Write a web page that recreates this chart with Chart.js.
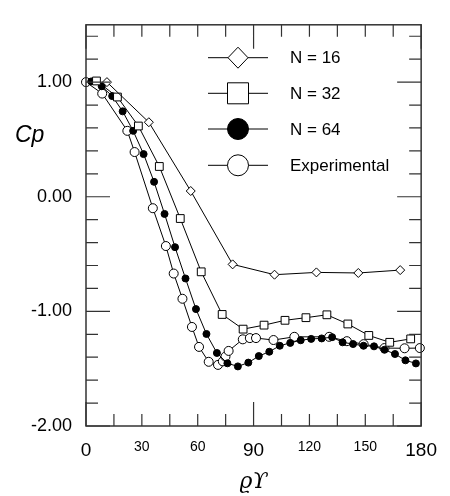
<!DOCTYPE html>
<html>
<head>
<meta charset="UTF-8" />
<title>Cp distribution</title>
<script src="https://cdn.jsdelivr.net/npm/chart.js"></script>
<style>
  body { margin: 0; background: #ffffff; }
  canvas { display: block; }
</style>
</head>
<body>
<canvas id="grafico" width="450" height="496"></canvas>
<script>
// tick labels
const xTicks = [0, 30, 60, 90, 120, 150, 180];
const yTicks = [-2, -1, 0, 1];

// series
const seriesNames = ['N = 16', 'N = 32', 'N = 64', 'Experimental'];

const n16Angle = [11.25, 33.75, 56.25, 78.75, 101.25, 123.75, 146.25, 168.75];
const n16Cp = [1.00, 0.65, 0.05, -0.59, -0.68, -0.66, -0.665, -0.64];

const n32Angle = [5.63, 16.88, 28.13, 39.38, 50.63, 61.88, 73.13, 84.38,
                  95.63, 106.88, 118.13, 129.38, 140.63, 151.88, 163.13, 174.38];
const n32Cp = [1.01, 0.87, 0.617, 0.264, -0.19, -0.655, -1.027, -1.155,
               -1.12, -1.078, -1.055, -1.03, -1.11, -1.21, -1.27, -1.24];

const n64Angle = [2.81, 8.44, 14.06, 19.69, 25.31, 30.94, 36.56, 42.19,
                  47.81, 53.44, 59.06, 64.69, 70.31, 75.94, 81.56, 87.19,
                  92.81, 98.44, 104.06, 109.69, 115.31, 120.94, 126.56, 132.19,
                  137.81, 143.44, 149.06, 154.69, 160.31, 165.94, 171.56, 177.19];
const n64Cp = [1.006, 0.964, 0.878, 0.745, 0.575, 0.372, 0.13, -0.15,
               -0.44, -0.713, -0.98, -1.197, -1.363, -1.453, -1.48, -1.447,
               -1.39, -1.352, -1.30, -1.275, -1.252, -1.24, -1.236, -1.225,
               -1.27, -1.285, -1.30, -1.305, -1.335, -1.372, -1.427, -1.454];

const expAngle = [0, 8.7, 22.2, 26.1, 35.9, 42.9, 47.1, 51.8, 56.9, 60.7,
                  65.9, 70.9, 73.5, 74.9, 76.6, 84.2, 88.0, 91.3, 100.7, 111.9,
                  130.6, 140.1, 149.1, 160.3, 171.1, 179.3];
const expCp = [1.00, 0.90, 0.575, 0.39, -0.10, -0.43, -0.67, -0.89, -1.136, -1.31,
               -1.44, -1.467, -1.436, -1.395, -1.345, -1.244, -1.233, -1.233, -1.25, -1.222,
               -1.222, -1.26, -1.286, -1.32, -1.322, -1.32];

const pts = (xs, ys) => xs.map((x, i) => ({ x: x, y: ys[i] }));

// frame with inward ticks, like the original plot
const moldura = {
  id: 'moldura',
  afterDatasetsDraw(chart) {
    const ctx = chart.ctx;
    const a = chart.chartArea;
    const sx = chart.scales.x, sy = chart.scales.y;
    ctx.save();
    ctx.strokeStyle = '#333';
    ctx.lineWidth = 1.5;
    ctx.strokeRect(a.left, a.top, a.right - a.left, a.bottom - a.top);
    ctx.lineWidth = 1.2;
    ctx.beginPath();
    for (let k = 0; k <= 12; k++) {
      const v = k * 15;
      const px = sx.getPixelForValue(v);
      const len = (v % 90 === 0) ? 24 : 12;
      ctx.moveTo(px, a.bottom); ctx.lineTo(px, a.bottom - len);
      ctx.moveTo(px, a.top); ctx.lineTo(px, a.top + len);
    }
    for (let k = 0; k <= 17; k++) {
      const v = -2 + 0.2 * k;
      const py = sy.getPixelForValue(v);
      const len = Math.abs(v - Math.round(v)) < 1e-6 ? 24 : 12;
      ctx.moveTo(a.left, py); ctx.lineTo(a.left + len, py);
      ctx.moveTo(a.right, py); ctx.lineTo(a.right - len, py);
    }
    ctx.stroke();

    // legend inside the plot
    const rows = [57.7, 93.3, 129, 165.3];
    const mx = 238;
    ctx.strokeStyle = '#000';
    ctx.lineWidth = 1;
    ctx.font = '17px "Liberation Sans", Arial, sans-serif';
    ctx.textBaseline = 'middle';
    ctx.textAlign = 'left';
    rows.forEach((y, i) => {
      ctx.beginPath();
      ctx.moveTo(208, y); ctx.lineTo(268, y);
      ctx.stroke();
      ctx.beginPath();
      if (i === 0) {
        ctx.moveTo(mx, y - 10.5); ctx.lineTo(mx + 10, y); ctx.lineTo(mx, y + 10.5); ctx.lineTo(mx - 10, y); ctx.closePath();
      } else if (i === 1) {
        ctx.rect(mx - 10.5, y - 10.5, 21, 21);
      } else {
        ctx.arc(mx, y, 10.5, 0, Math.PI * 2);
      }
      ctx.fillStyle = i === 2 ? '#000' : '#fff';
      ctx.fill();
      ctx.stroke();
      ctx.fillStyle = '#000';
      ctx.fillText(seriesNames[i], 290, y + 1);
    });

    // axis titles
    ctx.font = 'italic 23px "Liberation Sans", Arial, sans-serif';
    ctx.textBaseline = 'alphabetic';
    ctx.fillText('Cp', 15, 142);
    ctx.font = 'italic 22px "DejaVu Serif", serif';
    ctx.textAlign = 'center';
    ctx.fillText('ϱϒ', sx.getPixelForValue(90), 488);
    ctx.restore();
  }
};

const linha = { borderColor: '#000', borderWidth: 1, pointBorderColor: '#000', pointBorderWidth: 1, showLine: true, clip: false };

new Chart(document.getElementById('grafico'), {
  type: 'scatter',
  data: {
    datasets: [
      { ...linha, label: seriesNames[0], data: pts(n16Angle, n16Cp), pointStyle: 'rectRot', pointRadius: 4.5, pointBackgroundColor: '#fff' },
      { ...linha, label: seriesNames[1], data: pts(n32Angle, n32Cp), pointStyle: 'rect', pointRadius: 5.5, pointBackgroundColor: '#fff' },
      { ...linha, label: seriesNames[2], data: pts(n64Angle, n64Cp), pointStyle: 'circle', pointRadius: 3.5, pointBackgroundColor: '#000' },
      { ...linha, label: seriesNames[3], data: pts(expAngle, expCp), pointStyle: 'circle', pointRadius: 4.5, pointBackgroundColor: '#fff' }
    ]
  },
  options: {
    responsive: false,
    animation: false,
    layout: { padding: { top: 5, right: 21, left: 0, bottom: 0 } },
    plugins: { legend: { display: false }, tooltip: { enabled: false } },
    scales: {
      x: {
        type: 'linear', min: 0, max: 180,
        afterBuildTicks: s => { s.ticks = xTicks.map(v => ({ value: v })); },
        afterFit: s => { s.height = 70; },
        grid: { display: false, drawTicks: false },
        border: { display: false },
        ticks: {
          padding: 13,
          color: '#000',
          autoSkip: false,
          maxRotation: 0,
          font: c => ({ family: '"Liberation Sans", Arial, sans-serif', size: (c.tick && c.tick.value % 90 === 0) ? 19 : 14 }),
          callback: v => String(v)
        }
      },
      y: {
        type: 'linear', min: -2, max: 1.5,
        afterBuildTicks: s => { s.ticks = yTicks.map(v => ({ value: v })); },
        afterFit: s => { s.width = 86; },
        grid: { display: false, drawTicks: false },
        border: { display: false },
        ticks: {
          padding: 14,
          color: '#000',
          font: { family: '"Liberation Sans", Arial, sans-serif', size: 18 },
          callback: v => Number(v).toFixed(2)
        }
      }
    }
  },
  plugins: [moldura]
});
</script>
</body>
</html>
